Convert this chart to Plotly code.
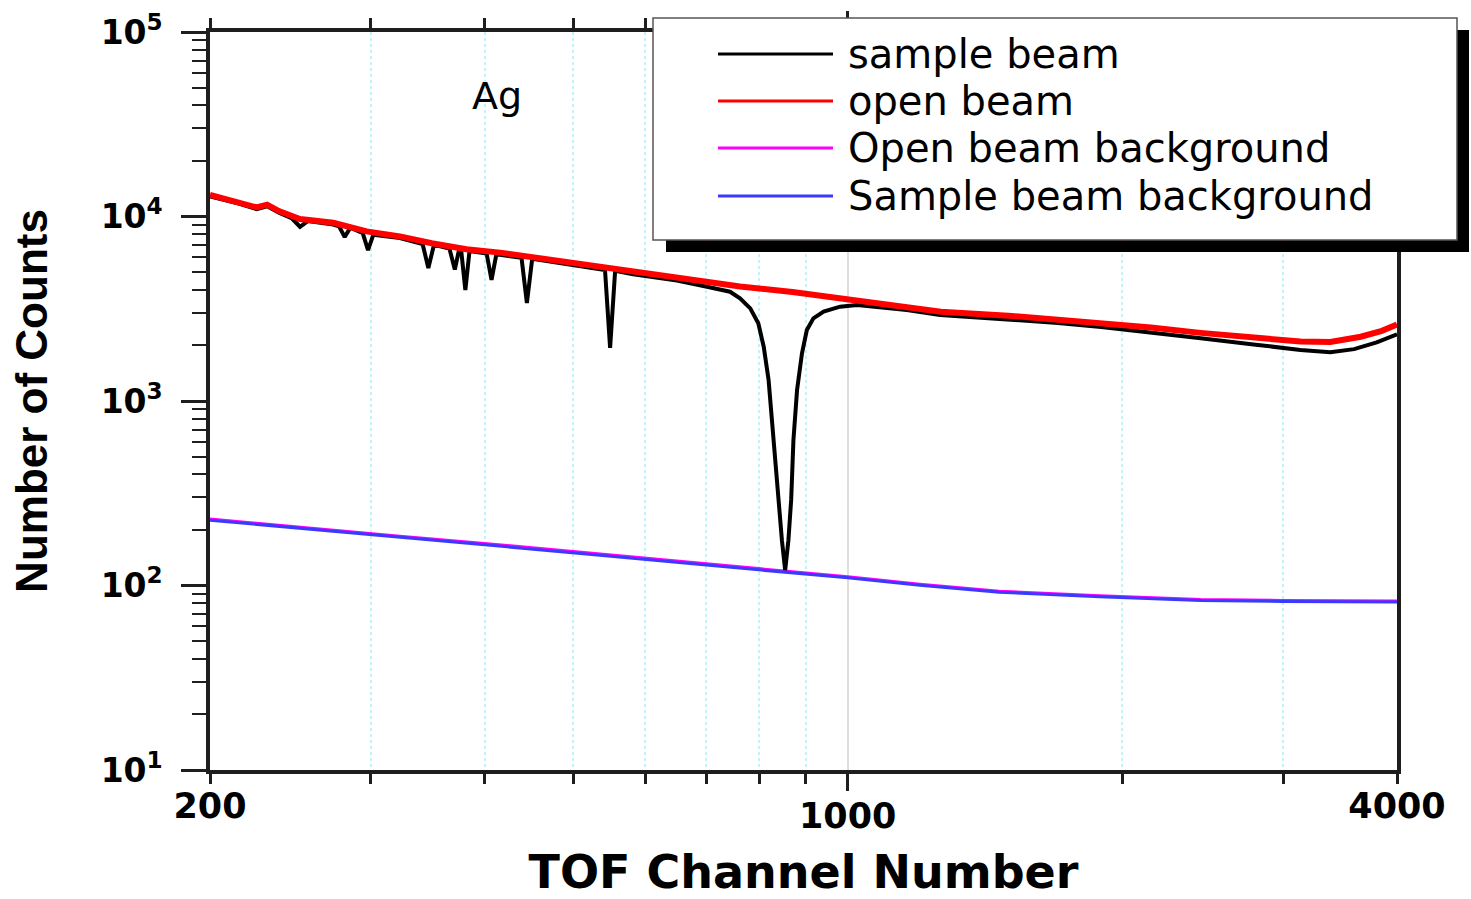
import math
import plotly.graph_objects as go

# ---------------- data ----------------
# Open beam: TOF channel vs counts
x_open = [200, 215, 225, 231, 238, 251, 273, 297, 323, 350, 382, 416, 452, 492,
          535, 582, 606, 650, 701, 762, 870, 982, 1100, 1265, 1500, 1700, 1896,
          2150, 2437, 2800, 3135, 3380, 3650, 3850, 4000]
open_counts = [13100, 12000, 11200, 11600, 10700, 9700, 9250, 8300, 7800, 7160,
               6650, 6370, 6010, 5620, 5310, 4960, 4830, 4600, 4350, 4170, 3900,
               3600, 3350, 3050, 2900, 2760, 2650, 2500, 2340, 2200, 2100, 2090,
               2230, 2400, 2600]

# Sample beam (Ag) with resonance dips
x_sample = [200, 215, 225, 231, 238, 246, 251, 256, 273, 277, 281, 285, 292, 294,
            298, 302, 323, 342, 347, 352, 364, 366, 371, 375, 377, 381, 385, 402,
            407, 412, 439, 445, 451, 492, 535, 542, 549, 556, 582, 606, 650, 701,
            743, 762, 782, 798, 809, 819, 826, 833, 840, 847, 854, 861, 867, 872,
            880, 891, 902, 917, 941, 981, 1024, 1067, 1161, 1263, 1500, 1700, 1896,
            2150, 2437, 2800, 3135, 3380, 3590, 3800, 4000]
sample_counts = [12850, 11750, 10950, 11350, 10500, 9750, 8800, 9450, 9050, 8850,
                 7740, 8700, 8250, 8150, 6580, 7950, 7640, 7100, 5260, 7020, 6750,
                 6700, 5160, 6620, 6560, 4000, 6500, 6300, 4530, 6240, 5980, 3400,
                 5900, 5510, 5200, 5120, 1940, 5080, 4860, 4730, 4500, 4165, 3910,
                 3604, 3178, 2637, 1969, 1300, 757, 440, 267, 176, 121, 176, 291,
                 615, 1147, 1814, 2426, 2807, 3049, 3245, 3314, 3245, 3114, 2925,
                 2780, 2650, 2520, 2360, 2190, 2020, 1890, 1840, 1910, 2080, 2300]

# Backgrounds
x_bg = [200, 250, 323, 400, 535, 700, 854, 1000, 1200, 1466, 1890, 2437, 3000, 3500, 4000]
open_bg = [229, 207, 185, 169, 148, 131, 119.5, 111.5, 101.5, 93.2, 88.1, 84.1, 83.0, 82.6, 82.5]
sample_bg = [226, 205, 183, 167, 146, 129, 118, 110, 100.3, 92, 87, 83, 82, 81.6, 81.5]

# axis ticks
x_major = [200, 4000]
x_major_mid = [1000]
x_minor = [300, 400, 500, 600, 700, 800, 900, 2000, 3000]
y_major = [10, 100, 1000, 10000, 100000]
y_major_text = ["10<sup>1</sup>", "10<sup>2</sup>", "10<sup>3</sup>",
                "10<sup>4</sup>", "10<sup>5</sup>"]
y_minor = [m * 10 ** k for k in range(1, 5) for m in range(2, 10)]

series_names = ["sample beam", "open beam", "Open beam background", "Sample beam background"]
series_colors = ["#000000", "#ff0000", "#ff00ff", "#3a3aff"]

# ---------------- figure ----------------
W, H = 1471, 899
L, R, T, B = 210, 74, 32, 129
pw, ph = W - L - R, H - T - B


def px(xp):
    return (xp - L) / pw


def py(yp):
    return (H - B - yp) / ph


fig = go.Figure()
fig.add_trace(go.Scatter(x=x_bg, y=open_bg, mode="lines", name=series_names[2],
                         line=dict(color=series_colors[2], width=3)))
fig.add_trace(go.Scatter(x=x_sample, y=sample_counts, mode="lines", name=series_names[0],
                         line=dict(color=series_colors[0], width=4)))
fig.add_trace(go.Scatter(x=x_open, y=open_counts, mode="lines", name=series_names[1],
                         line=dict(color=series_colors[1], width=6)))
# drawn on the overlaid x2 axis (same scale), which carries the 1000 tick
fig.add_trace(go.Scatter(x=x_bg, y=sample_bg, mode="lines", name=series_names[3],
                         xaxis="x2", yaxis="y",
                         line=dict(color=series_colors[3], width=3)))

axis_col = "#1e1e1e"
tick_font = dict(family="DejaVu Sans", size=35, color="black", weight="bold")
xr = [math.log10(200), math.log10(4000)]

fig.update_layout(
    width=W, height=H,
    margin=dict(l=L, r=R, t=T, b=B, autoexpand=False),
    paper_bgcolor="white", plot_bgcolor="white",
    showlegend=False,
    xaxis=dict(
        type="log", range=xr, automargin=False,
        tickmode="array", tickvals=x_major, ticktext=[str(v) for v in x_major],
        ticks="outside", ticklen=10, tickwidth=2.5, tickcolor=axis_col,
        showline=True, linewidth=3.5, linecolor=axis_col, mirror="ticks",
        showgrid=False, zeroline=False, tickfont=tick_font, ticklabelstandoff=-8,
        minor=dict(tickmode="array", tickvals=x_minor, ticks="outside", ticklen=10,
                   tickwidth=2.5, tickcolor=axis_col, showgrid=True,
                   gridcolor="#c4f2f6", griddash="dot", gridwidth=1.5),
        title=dict(text="TOF Channel Number", standoff=37,
                   font=dict(family="DejaVu Sans", size=46, color="black", weight="bold")),
    ),
    xaxis2=dict(
        type="log", range=xr, overlaying="x", anchor="y", side="bottom",
        automargin=False,
        tickmode="array", tickvals=x_major_mid, ticktext=[str(v) for v in x_major_mid],
        ticks="outside", ticklen=20, tickwidth=2.5, tickcolor=axis_col,
        showline=False, mirror="ticks",
        showgrid=True, gridcolor="#dedede", gridwidth=1.5, zeroline=False,
        tickfont=tick_font, ticklabelstandoff=-5,
    ),
    yaxis=dict(
        type="log", range=[1, 5], automargin=False,
        tickmode="array", tickvals=y_major, ticktext=y_major_text,
        ticks="outside", ticklen=25, tickwidth=2.5, tickcolor=axis_col,
        showline=True, linewidth=3.5, linecolor=axis_col, mirror=True,
        showgrid=False, zeroline=False,
        tickfont=dict(family="DejaVu Sans", size=33, color="black", weight="bold"),
        ticklabelstandoff=12,
        minor=dict(tickmode="array", tickvals=y_minor, ticks="outside", ticklen=14,
                   tickwidth=2, tickcolor=axis_col, showgrid=False),
        title=dict(text="Number of Counts", standoff=40,
                   font=dict(family="Liberation Sans", size=44, color="black", weight="bold")),
    ),
)

# sample label
fig.add_annotation(x=px(497), y=py(96), xref="paper", yref="paper", text="Ag",
                   showarrow=False, xanchor="center", yanchor="middle",
                   font=dict(family="DejaVu Sans", size=38, color="black"))

# legend panel with drop shadow
fig.add_shape(type="rect", xref="paper", yref="paper",
              x0=px(666), x1=px(1469), y0=py(252), y1=py(30),
              fillcolor="black", line=dict(width=0))
fig.add_shape(type="rect", xref="paper", yref="paper",
              x0=px(653), x1=px(1457), y0=py(240), y1=py(18),
              fillcolor="white", line=dict(color="#555555", width=1.5))
legend_order = [0, 1, 2, 3]
row_y = [54, 101, 148, 196]
for i, ry in zip(legend_order, row_y):
    fig.add_shape(type="line", xref="paper", yref="paper",
                  x0=px(718), x1=px(833), y0=py(ry), y1=py(ry),
                  line=dict(color=series_colors[i], width=3))
    fig.add_annotation(x=px(846), y=py(ry), xref="paper", yref="paper",
                       text=series_names[i], showarrow=False,
                       xanchor="left", yanchor="middle",
                       font=dict(family="DejaVu Sans", size=40, color="black"))

fig.write_html("out.html")
